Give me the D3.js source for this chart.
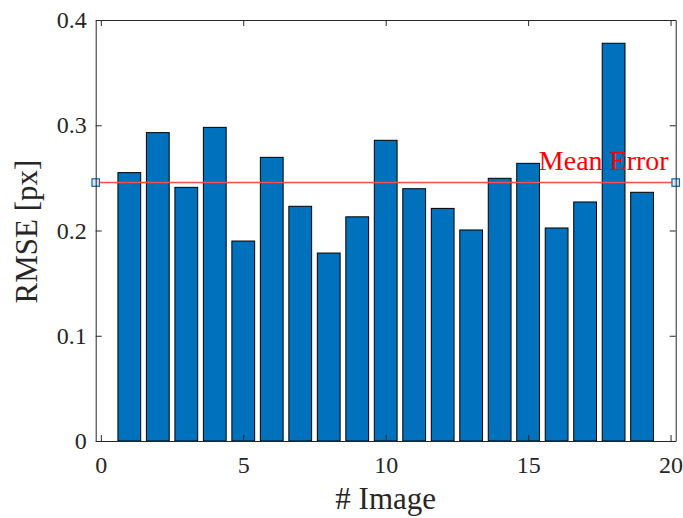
<!DOCTYPE html>
<html>
<head>
<meta charset="utf-8">
<script src="https://cdn.jsdelivr.net/npm/d3@7"></script>
<style>
  html, body { margin: 0; padding: 0; background: #ffffff; }
  svg { display: block; }
  text { font-family: "Liberation Serif", "Times New Roman", serif; }
</style>
</head>
<body>
<svg id="chart" width="683" height="518"></svg>
<script>
// ---- data ----
const images = [1, 2, 3, 4, 5, 6, 7, 8, 9, 10, 11, 12, 13, 14, 15, 16, 17, 18, 19];
const rmse = [0.255, 0.293, 0.241, 0.298, 0.190, 0.2695, 0.223, 0.1786, 0.213, 0.2857,
              0.2397, 0.221, 0.2005, 0.2496, 0.2638, 0.2024, 0.2271, 0.3779, 0.2363];
const xTicks = [0, 5, 10, 15, 20];
const yTicks = [0, 0.1, 0.2, 0.3, 0.4];
const xDomain = [-0.18, 20.18];
const yDomain = [0, 0.4];
const meanLabel = "Mean Error";
const xLabel = "# Image";
const yLabel = "RMSE [px]";

// ---- layout ----
const svg = d3.select("#chart");
const W = 683, H = 518;
const m = { left: 95.7, right: W - 675.7, top: 20, bottom: H - 441 };
const axisColor = "#262626";

svg.append("rect").attr("width", W).attr("height", H).attr("fill", "#fff");

const x = d3.scaleLinear().domain(xDomain).range([m.left, W - m.right]);
const y = d3.scaleLinear().domain(yDomain).range([H - m.bottom, m.top]);

const g = svg.append("g");

// bars
const barW = 0.8;
g.selectAll("rect.bar").data(images).enter().append("rect")
  .attr("class", "bar")
  .attr("x", (d) => x(d - barW / 2))
  .attr("width", (d) => x(d + barW / 2) - x(d - barW / 2))
  .attr("y", (d, i) => y(rmse[i]))
  .attr("height", (d, i) => y(0) - y(rmse[i]))
  .attr("fill", "#0072BD")
  .attr("stroke", "#000")
  .attr("stroke-width", 1);

// mean line
const meanVal = d3.mean(rmse);
g.append("line")
  .attr("x1", x(xDomain[0])).attr("x2", x(xDomain[1]))
  .attr("y1", y(meanVal)).attr("y2", y(meanVal))
  .attr("stroke", "#ff4d4d").attr("stroke-width", 1.5);

const ms = 7.5;
g.selectAll("rect.mk").data(xDomain).enter().append("rect")
  .attr("class", "mk")
  .attr("x", (d) => x(d) - ms / 2)
  .attr("y", y(meanVal) - ms / 2)
  .attr("width", ms).attr("height", ms)
  .attr("fill", "#cfe6f7")
  .attr("stroke", "#1a63a6")
  .attr("stroke-width", 1.2);

g.append("text")
  .attr("x", x(xDomain[1]) - 7)
  .attr("y", y(meanVal) - 12.5)
  .attr("text-anchor", "end")
  .attr("fill", "#ff0000")
  .attr("font-size", 28)
  .text(meanLabel);

// axes
const fmtY = (d) => (d === 0 ? "0" : d3.format(".1f")(d));
const tickLen = 6;

const axB = svg.append("g").attr("transform", `translate(0,${H - m.bottom})`)
  .call(d3.axisBottom(x).tickValues(xTicks).tickSizeInner(-tickLen).tickSizeOuter(0).tickPadding(15).tickFormat(d3.format("d")));
const axL = svg.append("g").attr("transform", `translate(${m.left},0)`)
  .call(d3.axisLeft(y).tickValues(yTicks).tickSizeInner(-tickLen).tickSizeOuter(0).tickPadding(9).tickFormat(fmtY));
const axT = svg.append("g").attr("transform", `translate(0,${m.top})`)
  .call(d3.axisTop(x).tickValues(xTicks).tickSizeInner(-tickLen).tickSizeOuter(0).tickFormat(""));
const axR = svg.append("g").attr("transform", `translate(${W - m.right},0)`)
  .call(d3.axisRight(y).tickValues(yTicks).tickSizeInner(-tickLen).tickSizeOuter(0).tickFormat(""));

[axB, axL, axT, axR].forEach((a) => {
  a.selectAll("path.domain").attr("stroke", axisColor).attr("stroke-width", 1);
  a.selectAll(".tick line").attr("stroke", axisColor).attr("stroke-width", 1);
  a.selectAll(".tick text").attr("fill", axisColor).attr("font-size", 24)
    .attr("font-family", "Liberation Serif, serif");
});

// axis labels
svg.append("text")
  .attr("x", (m.left + W - m.right) / 2)
  .attr("y", 508.5)
  .attr("text-anchor", "middle")
  .attr("fill", axisColor)
  .attr("font-size", 31)
  .text(xLabel);

svg.append("text")
  .attr("transform", `translate(37,${(m.top + H - m.bottom) / 2 + 1}) rotate(-90)`)
  .attr("text-anchor", "middle")
  .attr("fill", axisColor)
  .attr("font-size", 31)
  .text(yLabel);
</script>
</body>
</html>
